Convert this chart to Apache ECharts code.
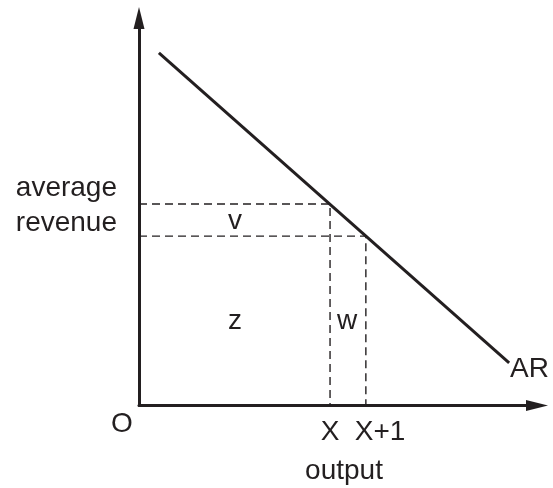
<!DOCTYPE html>
<html>
<head>
<meta charset="utf-8">
<title></title>
<script src="https://cdn.jsdelivr.net/npm/echarts@6/dist/echarts.min.js"></script>
<style>
html, body { margin: 0; padding: 0; background: #fff; }
</style>
</head>
<body>

<div id="main" style="width: 553px;height:488px;"></div>

<script type="text/javascript">

// average revenue curve (output, revenue), arbitrary units 0..100
let AR_OUTPUT = [5, 93];
let AR_REVENUE = [91, 11];

// the two output levels X and X+1 and their average revenue
let MARK_OUTPUT = [48, 57];
let MARK_REVENUE = [52, 43.7];

let TICK_LABELS = ['X', 'X+1'];
let AREA_LABELS = ['v', 'z', 'w'];
let Y_LABEL = 'average\nrevenue';
let X_NAME = 'output';
let CURVE_NAME = 'AR';
let ORIGIN_LABEL = 'O';

let INK = '#231f20';
let FONT = "'Liberation Sans', Arial, sans-serif";

function zip(xs, ys){
	return xs.map((x, i) => [x, ys[i]]);
}

// dashed guide: from the y axis across to the curve, then down to the x axis
function guide(i){
	return {
		type: 'line',
		silent: true,
		symbol: 'none',
		lineStyle: { color: INK, width: 1.4, type: [8, 5] },
		data: [[0, MARK_REVENUE[i]], [MARK_OUTPUT[i], MARK_REVENUE[i]], [MARK_OUTPUT[i], 0]]
	};
}

function txt(text, x, y, align){
	return {
		type: 'text',
		style: {
			text: text, x: x, y: y,
			fill: INK, font: '28px ' + FONT,
			textAlign: align || 'center', textVerticalAlign: 'middle',
			lineHeight: 35
		}
	};
}

let arrow = 'path://M5,0L10,20L0,20Z';

let axisCommon = {
	type: 'value',
	min: 0,
	max: 100,
	splitLine: { show: false },
	axisTick: { show: false },
	axisLabel: { show: false },
	axisLine: {
		show: true,
		symbol: ['none', arrow],
		symbolSize: [12, 22],
		lineStyle: { color: INK, width: 3 }
	}
};

var myChart = echarts.init(document.getElementById('main'));

var option = {
	animation: false,
	backgroundColor: '#fff',
	grid: { left: 139, right: 16, top: 18, bottom: 82.5 },
	xAxis: axisCommon,
	yAxis: axisCommon,
	series: [
		{
			type: 'line',
			silent: true,
			symbol: 'none',
			lineStyle: { color: INK, width: 3 },
			data: zip(AR_OUTPUT, AR_REVENUE)
		},
		guide(0),
		guide(1)
	],
	graphic: [
		txt(Y_LABEL, 117, 206, 'right'),
		txt(AREA_LABELS[0], 235, 221),
		txt(AREA_LABELS[1], 235, 321),
		txt(AREA_LABELS[2], 347, 321),
		txt(CURVE_NAME, 510, 369, 'left'),
		txt(ORIGIN_LABEL, 122, 424),
		txt(TICK_LABELS[0], 330, 432),
		txt(TICK_LABELS[1], 380, 432),
		txt(X_NAME, 344, 471)
	]
};

myChart.setOption(option);

</script>

</body>
</html>
